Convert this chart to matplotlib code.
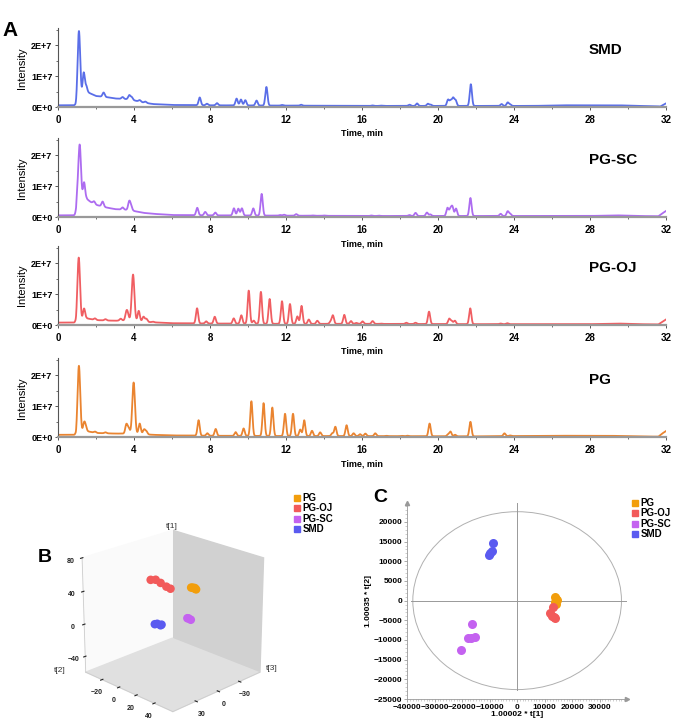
import numpy as np
import matplotlib.pyplot as plt
from matplotlib.ticker import MultipleLocator, FuncFormatter
from matplotlib.patches import Ellipse

plt.rcParams['font.family'] = ['Liberation Sans', 'DejaVu Sans']

# ---------------- panel A: base peak chromatograms ----------------
samples = ['SMD', 'PG-SC', 'PG-OJ', 'PG']
line_colors = ['#5a6ee8', '#ad6cf0', '#f05e62', '#ea8430']

# peak retention times (min) and heights above baseline (x 1E+6)
smd_rt = [1.1, 1.35, 1.48, 2.4, 3.4, 3.75, 3.88, 4.3, 4.6, 7.46, 7.84, 8.37, 9.4, 9.63, 9.86,
          10.45, 10.97, 11.8, 12.8, 16.56, 17.0, 18.5, 18.9, 19.47, 19.62, 20.53, 20.67, 20.8,
          20.93, 21.73, 23.35, 23.67, 23.8]
smd_h = [23.5, 7.5, 1.8, 1.4, 0.6, 1.4, 0.9, 0.5, 0.4, 2.5, 0.5, 0.7, 2.2, 1.9, 1.7,
         1.6, 6.0, 0.2, 0.3, 0.15, 0.1, 0.4, 0.8, 0.7, 0.4, 2.0, 1.7, 2.5,
         1.8, 7.0, 0.6, 1.1, 0.5]
smd_base_t = [0, 0.88, 0.95, 1.02, 1.5, 2.0, 2.6, 3.0, 3.6, 4.0, 4.5, 5.0, 6.0, 8, 12, 16, 22,
              25, 26.5, 29.5, 30.5, 31.5, 31.7, 31.9, 32.0]
smd_base = [0.6, 0.6, 0.1, 0.3, 5.0, 3.6, 3.2, 2.8, 2.6, 2.2, 1.5, 1.0, 0.7, 0.6, 0.5, 0.4, 0.4,
            0.4, 0.6, 0.6, 0.4, 0.3, 0.2, 0.9, 1.2]

pgsc_rt = [1.0, 1.14, 1.37, 1.9, 2.35, 3.4, 3.75, 3.85, 7.33, 7.75, 8.28, 9.26, 9.49, 9.68,
           10.28, 10.72, 11.7, 11.9, 12.54, 13.4, 14.0, 16.5, 16.9, 18.5, 18.82, 19.42, 19.6,
           20.5, 20.65, 20.76, 20.95, 21.71, 23.3, 23.67, 23.8]
pgsc_h = [3.0, 19.5, 6.0, 0.8, 1.6, 0.7, 2.8, 1.3, 2.4, 1.1, 0.9, 2.3, 2.2, 2.3,
          2.3, 7.0, 0.2, 0.3, 0.5, 0.1, 0.1, 0.15, 0.1, 0.3, 1.0, 1.1, 0.5,
          2.6, 2.1, 2.9, 2.4, 5.8, 0.7, 1.5, 0.7]
pgsc_base_t = [0, 0.85, 0.95, 1.0, 1.5, 1.7, 2.0, 2.5, 3.0, 3.3, 3.6, 4.0, 4.5, 5.0, 6, 8, 12,
               16, 22, 28, 29.4, 30.5, 31.6, 31.8, 32]
pgsc_base = [0.6, 0.6, 0.5, 3.0, 6.0, 5.0, 4.0, 3.2, 2.6, 2.5, 2.4, 2.0, 1.4, 1.1, 0.7, 0.6, 0.5,
             0.4, 0.4, 0.4, 0.6, 0.4, 0.3, 1.2, 2.0]

pgoj_rt = [1.09, 1.37, 1.95, 2.5, 3.3, 3.6, 3.68, 3.95, 4.25, 4.5, 4.65, 5.0, 7.32, 7.8, 8.25,
           9.25, 9.65, 10.04, 10.3, 10.68, 11.14, 11.79, 12.21, 12.6, 12.82, 13.2, 13.65,
           14.35, 14.47, 15.07, 15.42, 15.7, 16.03, 16.56, 17.0, 18.33, 18.82, 19.53, 20.59,
           20.72, 20.89, 21.7, 23.3, 23.65]
pgoj_h = [21.0, 3.6, 0.5, 0.4, 0.6, 2.6, 1.7, 15.0, 3.4, 1.6, 1.0, 0.2, 4.9, 0.7, 2.2,
          1.7, 2.7, 10.7, 1.0, 10.3, 8.0, 7.3, 6.4, 2.4, 5.8, 1.4, 1.0,
          0.7, 2.7, 2.9, 0.9, 0.3, 0.8, 0.9, 0.1, 0.4, 0.4, 4.0, 1.7,
          1.0, 1.1, 5.1, 0.2, 0.3]
pgoj_base_t = [0, 0.9, 0.95, 1.0, 1.5, 2.0, 3.0, 3.5, 4.0, 4.5, 5.0, 6.0, 8, 12, 16, 22, 28,
               29.5, 30.5, 31.6, 31.8, 32]
pgoj_base = [0.8, 0.8, 0.1, 0.5, 2.2, 1.6, 1.4, 1.5, 1.3, 1.1, 0.9, 0.6, 0.5, 0.4, 0.4, 0.3, 0.3,
             0.5, 0.3, 0.2, 1.0, 1.8]

pg_rt = [1.1, 1.37, 1.45, 1.95, 2.5, 3.6, 3.72, 3.98, 4.3, 4.53, 4.65, 7.4, 7.86, 8.3, 9.35,
         9.77, 10.18, 10.82, 11.28, 11.95, 12.37, 12.75, 12.96, 13.37, 13.8, 14.44, 14.6,
         15.19, 15.56, 15.9, 16.18, 16.7, 17.3, 18.1, 18.4, 19.56, 20.53, 20.66, 20.9,
         21.71, 23.5, 23.8]
pg_h = [22.3, 2.8, 1.4, 0.4, 0.3, 3.0, 1.7, 16.6, 3.4, 1.5, 1.0, 5.0, 0.8, 2.2, 1.2,
        2.4, 11.2, 10.6, 9.2, 7.2, 7.2, 2.1, 5.1, 1.7, 1.2, 0.9, 3.0,
        3.5, 0.9, 0.6, 0.8, 0.9, 0.1, 0.1, 0.15, 4.1, 0.6, 1.5, 0.5,
        4.7, 0.9, 0.2]
pg_base_t = [0, 0.9, 0.95, 1.0, 1.5, 2.0, 3.0, 3.5, 4.0, 4.5, 5.0, 6.0, 8, 12, 16, 22, 26, 29,
             30.5, 31.6, 31.8, 32]
pg_base = [0.8, 0.8, 0.1, 0.5, 2.0, 1.4, 1.2, 1.2, 1.1, 1.0, 0.8, 0.6, 0.5, 0.4, 0.4, 0.3, 0.5,
           0.5, 0.3, 0.2, 1.2, 2.0]

peak_tables = [(smd_rt, smd_h, smd_base_t, smd_base),
               (pgsc_rt, pgsc_h, pgsc_base_t, pgsc_base),
               (pgoj_rt, pgoj_h, pgoj_base_t, pgoj_base),
               (pg_rt, pg_h, pg_base_t, pg_base)]

# ---------------- panel C: PCA scores ----------------
groups = ['PG', 'PG-OJ', 'PG-SC', 'SMD']
group_colors = ['#f29e0c', '#f25a5a', '#c462f0', '#5a5af0']
pc1 = {'PG': [14000, 14300, 13800, 14500, 13900],
       'PG-OJ': [12900, 12000, 13500, 12700, 13800],
       'PG-SC': [-16500, -17800, -16800, -15500, -20300],
       'SMD': [-8700, -9300, -10300, -9800]}
pc2 = {'PG': [400, -800, 900, 200, -300],
       'PG-OJ': [-1700, -3200, -4200, -3900, -4500],
       'PG-SC': [-5900, -9600, -9500, -9300, -12600],
       'SMD': [14600, 12700, 11600, 12200]}

# ---------------- panel B: 3D PCA scores ----------------
t1_3d = {'PG': [43, 42, 44, 41, 43],
         'PG-OJ': [44, 45, 42, 38, 36],
         'PG-SC': [4, 5, 3],
         'SMD': [-12, -11, -12, -10]}
t2_3d = {'PG': [18, 20, 22, 21, 19],
         'PG-OJ': [-16, -12, -8, -4, -1],
         'PG-SC': [14, 16, 17],
         'SMD': [-15, -13, -10, -8]}
t3_3d = {'PG': [-15, -17, -15, -18, -16],
         'PG-OJ': [-1, -3, -5, -8, -10],
         'PG-SC': [-15, -14, -16],
         'SMD': [-5, -6, -7, -6]}

fig = plt.figure(figsize=(6.8, 7.24), dpi=100)

t = np.arange(0, 32.0001, 0.005)
bottoms = [0.852, 0.700, 0.551, 0.396]
for i, name in enumerate(samples):
    rt, h, bt, bv = peak_tables[i]
    y = np.interp(t, bt, bv)
    for r, hh in zip(rt, h):
        s = 0.07 if hh > 14 else 0.058
        y = y + hh * np.exp(-0.5 * ((t - r) / s) ** 2)
    ax = fig.add_axes([0.0853, bottoms[i], 0.894, 0.109])
    ax.plot(t, y * 1e6, color=line_colors[i], lw=1.3)
    ax.set_xlim(0, 32)
    ax.set_ylim(0, 2.55e7)
    ax.spines['top'].set_visible(False)
    ax.spines['right'].set_visible(False)
    ax.spines['left'].set_color('#555555')
    ax.spines['left'].set_linewidth(0.8)
    ax.spines['bottom'].set_color('#999999')
    ax.spines['bottom'].set_linewidth(1.6)
    ax.xaxis.set_major_locator(MultipleLocator(4))
    ax.xaxis.set_minor_locator(MultipleLocator(2))
    ax.yaxis.set_major_locator(MultipleLocator(1e7))
    ax.yaxis.set_minor_locator(MultipleLocator(5e6))
    ax.yaxis.set_major_formatter(FuncFormatter(lambda v, p: '%dE+%d' % (round(v / 1e7), 0 if v == 0 else 7)))
    ax.tick_params(axis='both', which='major', length=2.5, width=0.7, color='#555555', pad=1.5)
    ax.tick_params(axis='both', which='minor', length=1.5, width=0.6, color='#555555')
    for lab in ax.get_xticklabels() + ax.get_yticklabels():
        lab.set_fontweight('bold')
    ax.tick_params(axis='x', labelsize=7, pad=3)
    ax.tick_params(axis='y', labelsize=6.5)
    ax.set_ylabel('Intensity', fontsize=8, labelpad=3)
    ax.set_xlabel('Time, min', fontsize=6.5, fontweight='bold', labelpad=3)
    ax.patch.set_alpha(0)
    fig.text(589 / 680, bottoms[i] + 0.109 - 0.03, name, fontsize=11, fontweight='bold',
             va='center', ha='left')

fig.text(0.004, 1 - 30 / 724, 'A', fontsize=15, fontweight='bold', va='center')

# ---------------- panel B ----------------
ax3 = fig.add_axes([0.075, 0.0, 0.35, 0.29], projection='3d')
for g, c in zip(groups, group_colors):
    ax3.scatter(t3_3d[g], t2_3d[g], t1_3d[g], color=c, s=38, depthshade=False,
                edgecolor='none', alpha=1)
ax3.set_xlim(-60, 60)
ax3.set_ylim(-40, 60)
ax3.set_zlim(-60, 80)
ax3.set_box_aspect((1, 1, 0.98))
ax3.view_init(elev=22, azim=45)
ax3.grid(False)
ax3.xaxis.set_pane_color((0.82, 0.82, 0.82, 1))
ax3.yaxis.set_pane_color((0.98, 0.98, 0.98, 1))
ax3.zaxis.set_pane_color((0.88, 0.88, 0.88, 1))
for axis in (ax3.xaxis, ax3.yaxis, ax3.zaxis):
    axis.line.set_color('#cccccc')
    axis.line.set_linewidth(0.6)
ax3.set_xticks([-30, 0, 30])
ax3.set_yticks([-20, 0, 20, 40])
ax3.set_zticks([-40, 0, 40, 80])
ax3.tick_params(labelsize=5, pad=-3, colors='#222222')
for lab in ax3.get_xticklabels() + ax3.get_yticklabels() + ax3.get_zticklabels():
    lab.set_fontweight('bold')
ax3.patch.set_alpha(0)
fig.text(172 / 680, 1 - 527 / 724, 't[1]', fontsize=6, ha='center', va='center', color='#333333')
fig.text(60 / 680, 1 - 670 / 724, 't[2]', fontsize=6, ha='center', va='center', color='#333333')
fig.text(272 / 680, 1 - 668 / 724, 't[3]', fontsize=6, ha='center', va='center', color='#333333')

fig.text(38 / 680, 1 - 558 / 724, 'B', fontsize=14, fontweight='bold', va='center')

handles = [plt.Line2D([], [], ls='none', marker='s', markersize=5, color=c) for c in group_colors]
fig.legend(handles, groups, loc='upper left', bbox_to_anchor=(294 / 680, 1 - 493 / 724),
           frameon=False, prop={'weight': 'bold', 'size': 7}, handlelength=0.6,
           handletextpad=0.3, labelspacing=0.05, borderaxespad=0, borderpad=0)

# ---------------- panel C ----------------
axc = fig.add_axes([0.599, 0.0345, 0.323, 0.2707])
axc.add_patch(Ellipse((0, 0), 76000, 45200, fill=False, color='#b0b0b0', lw=0.7))
axc.plot([-38500, 40000], [0, 0], color='#999999', lw=0.7)
axc.plot([0, 0], [-22800, 24800], color='#999999', lw=0.7)
for g, c in zip(groups, group_colors):
    axc.plot(pc1[g], pc2[g], ls='none', marker='o', markersize=6.5, color=c, mec='none')
axc.set_xlim(-40000, 40000)
axc.set_ylim(-25000, 24800)
axc.spines['top'].set_visible(False)
axc.spines['right'].set_visible(False)
axc.spines['left'].set_color('#999999')
axc.spines['bottom'].set_color('#999999')
axc.spines['left'].set_linewidth(0.6)
axc.spines['bottom'].set_linewidth(0.6)
axc.plot(1, 0, '>', color='#999999', markersize=3, transform=axc.transAxes, clip_on=False)
axc.plot(0, 1, '^', color='#999999', markersize=3, transform=axc.transAxes, clip_on=False)
axc.set_xticks(np.arange(-40000, 30001, 10000))
axc.set_yticks(np.arange(-25000, 20001, 5000))
axc.xaxis.set_minor_locator(MultipleLocator(1000))
axc.yaxis.set_minor_locator(MultipleLocator(1000))
axc.tick_params(which='major', length=2.5, width=0.5, color='#888888', labelsize=6, pad=1)
axc.tick_params(which='minor', length=1.2, width=0.4, color='#aaaaaa')
for lab in axc.get_xticklabels() + axc.get_yticklabels():
    lab.set_fontweight('bold')
axc.set_xlabel('1.00002 * t[1]', fontsize=6, fontweight='bold', labelpad=0)
axc.set_ylabel('1.00035 * t[2]', fontsize=6, fontweight='bold', labelpad=1)

fig.text(373 / 680, 1 - 498 / 724, 'C', fontsize=14, fontweight='bold', va='center')
fig.legend(handles, groups, loc='upper left', bbox_to_anchor=(632 / 680, 1 - 498 / 724),
           frameon=False, prop={'weight': 'bold', 'size': 7}, handlelength=0.6,
           handletextpad=0.3, labelspacing=0.05, borderaxespad=0, borderpad=0)

fig.savefig('out.png', dpi=100)
